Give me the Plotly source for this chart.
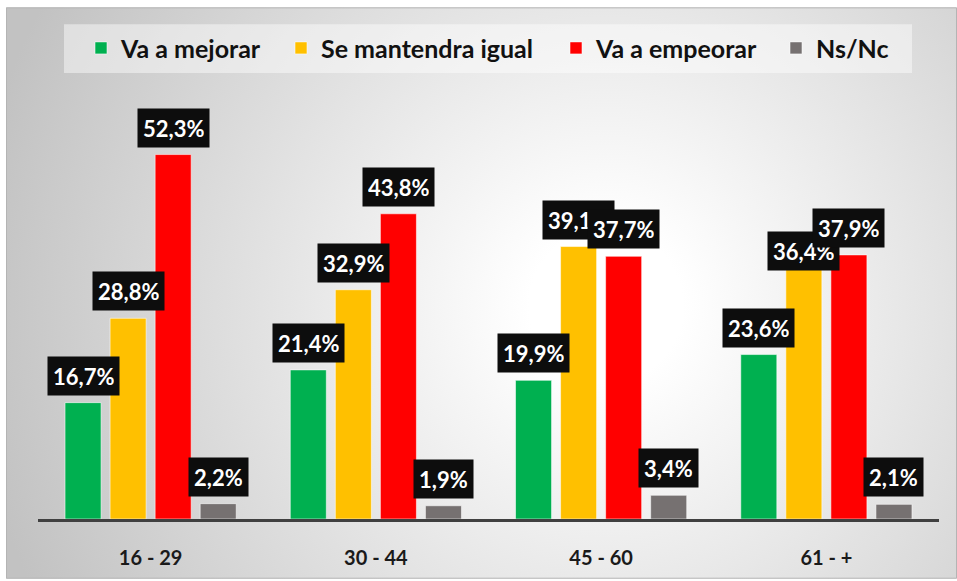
import base64
import plotly.graph_objects as go

# ---- data ----
categories = ["16 - 29", "30 - 44", "45 - 60", "61 - +"]
series_names = ["Va a mejorar", "Se mantendra igual", "Va a empeorar", "Ns/Nc"]
va_a_mejorar = [16.7, 21.4, 19.9, 23.6]
se_mantendra_igual = [28.8, 32.9, 39.1, 36.4]
va_a_empeorar = [52.3, 43.8, 37.7, 37.9]
ns_nc = [2.2, 1.9, 3.4, 2.1]
series_values = [va_a_mejorar, se_mantendra_igual, va_a_empeorar, ns_nc]

# ---- styles ----
colors = ["#00B050", "#FFC000", "#FF0000", "#767171"]
FONT = "Lato"
W, H = 957, 581
ML, MR, MT, MB = 38, 18, 80, 60
BARGAP, GROUPGAP = 0.2, 0.2
# legend entry text start (px) for each series
legend_text_px = [122, 322, 597, 817]
# label nudges (series index, category index) -> pixels, as in the original layout
label_nudge = {(1, 3): -13}

plot_w = W - ML - MR
plot_h = H - MT - MB


def px_x(px):
    return (px - ML) / plot_w


def px_y(py):
    return (H - MB - py) / plot_h


fig = go.Figure()
legend_ids = ["legend", "legend2", "legend3", "legend4"]
for name, vals, col, lid in zip(series_names, series_values, colors, legend_ids):
    fig.add_trace(go.Bar(
        x=categories, y=vals, name=name, legend=lid,
        marker=dict(color=col, line=dict(color="rgba(255,255,255,0.55)", width=1)),
        hoverinfo="skip",
    ))

# data labels in black boxes
cat_w = plot_w / len(categories)
slot = cat_w * (1 - BARGAP) / len(series_values)
for i, vals in enumerate(series_values):
    off = (i - (len(series_values) - 1) / 2) * slot
    for j, v in enumerate(vals):
        fig.add_annotation(
            x=categories[j], y=v, xref="x", yref="y",
            xshift=off, yshift=7 + label_nudge.get((i, j), 0),
            yanchor="bottom", xanchor="center", showarrow=False,
            text=f"{v:.1f}".replace(".", ",") + "%",
            font=dict(family=FONT, size=22, color="white", weight="bold"),
            bgcolor="#0d0d0d", borderpad=5, height=28,
        )

# background: radial gradient (as svg image)
svg = '''<svg xmlns="http://www.w3.org/2000/svg" width="951" height="574" viewBox="0 0 951 574">
<defs><radialGradient id="g" gradientUnits="userSpaceOnUse" cx="600" cy="300" r="640">
<stop offset="0" stop-color="#ffffff"/><stop offset="0.12" stop-color="#ffffff"/>
<stop offset="1" stop-color="#c2c2c2"/></radialGradient></defs>
<rect x="0" y="0" width="951" height="574" fill="url(#g)"/></svg>'''
src = "data:image/svg+xml;base64," + base64.b64encode(svg.encode()).decode()

fig.add_layout_image(dict(
    source=src, xref="paper", yref="paper",
    x=px_x(6), y=px_y(7), sizex=px_x(957) - px_x(6), sizey=px_y(7) - px_y(581),
    xanchor="left", yanchor="top", sizing="stretch", layer="below",
))
# border of chart area
fig.add_shape(type="rect", xref="paper", yref="paper",
              x0=px_x(6.5), x1=px_x(956.5), y0=px_y(580.5), y1=px_y(7.5),
              line=dict(color="#b4b4b4", width=1), layer="below")
# legend background box
fig.add_shape(type="rect", xref="paper", yref="paper",
              x0=px_x(64), x1=px_x(912), y0=px_y(73), y1=px_y(24),
              line=dict(width=0), fillcolor="rgba(255,255,255,0.45)", layer="below")

legend_common = dict(
    orientation="h", xanchor="left", y=px_y(48), yanchor="middle",
    bgcolor="rgba(0,0,0,0)", font=dict(family=FONT, size=25, color="#111111", weight="bold"),
    itemclick=False, itemdoubleclick=False, itemwidth=30,
)
legends = {}
for lid, tx in zip(legend_ids, legend_text_px):
    legends[lid] = dict(legend_common, x=px_x(tx - 41))

fig.update_layout(
    width=W, height=H,
    margin=dict(l=ML, r=MR, t=MT, b=MB),
    paper_bgcolor="white", plot_bgcolor="rgba(0,0,0,0)",
    barmode="group", bargap=BARGAP, bargroupgap=GROUPGAP,
    font=dict(family=FONT, color="#1a1a1a"),
    showlegend=True,
    **legends,
    xaxis=dict(
        showgrid=False, showline=True, linecolor="#404040", linewidth=3,
        ticks="outside", ticklen=19, tickcolor="rgba(0,0,0,0)",
        tickfont=dict(family=FONT, size=20, color="#1a1a1a", weight="bold"),
        fixedrange=True,
    ),
    yaxis=dict(range=[0, plot_h / 7.0], visible=False, showgrid=False, fixedrange=True),
)

fig.write_html("out.html", config={"displayModeBar": False},
               post_script="document.body.style.margin='0';")
